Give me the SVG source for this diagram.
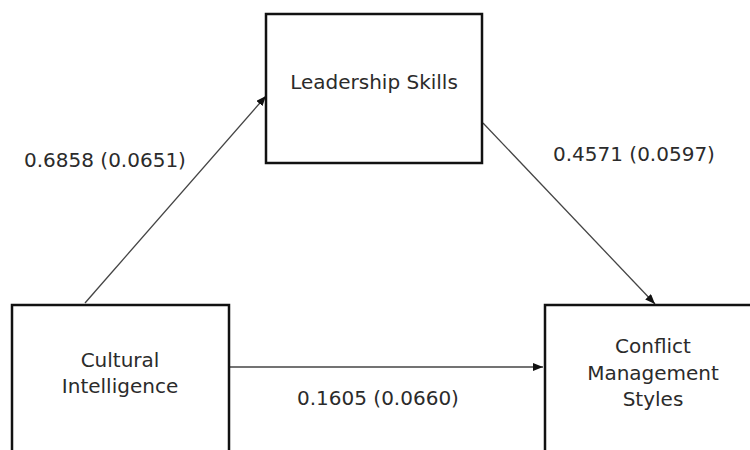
<svg xmlns="http://www.w3.org/2000/svg" width="750" height="450" viewBox="0 0 750 450">
<style>
.box{fill:#fff;stroke:#111;stroke-width:2.5}
.t{font-family:"DejaVu Sans",Verdana,sans-serif;font-size:20px;fill:#2b2b2b;text-anchor:middle}
.lbl{font-family:"DejaVu Sans",Verdana,sans-serif;font-size:20px;fill:#2b2b2b}
.c{stroke:#444;stroke-width:1.3;fill:none;marker-end:url(#ah)}
</style>
<defs>
<marker id="ah" markerWidth="10" markerHeight="8" refX="10" refY="4" orient="auto" markerUnits="userSpaceOnUse">
<path d="M0,0 L10,4 L0,8 Z" fill="#111"/>
</marker>
</defs>
<rect width="750" height="450" fill="#fff"/>
<g id="connectors">
<line class="c" x1="85" y1="303" x2="266" y2="96"/>
<line class="c" x1="483" y1="123" x2="655" y2="304"/>
<line class="c" x1="230" y1="367" x2="543" y2="367"/>
</g>
<g id="leadership">
<rect class="box" x="266" y="14" width="216" height="149"/>
<text class="t" x="374" y="89">Leadership Skills</text>
</g>
<g id="cultural">
<rect class="box" x="12" y="305" width="217" height="160"/>
<text class="t" x="120" y="367">Cultural</text>
<text class="t" x="120" y="393">Intelligence</text>
</g>
<g id="conflict">
<rect class="box" x="545" y="305" width="240" height="160"/>
<text class="t" x="653" y="353">Conflict</text>
<text class="t" x="653" y="380">Management</text>
<text class="t" x="653" y="406">Styles</text>
</g>
<g id="labels">
<text class="lbl" x="24" y="167">0.6858 (0.0651)</text>
<text class="lbl" x="553" y="161">0.4571 (0.0597)</text>
<text class="lbl" x="297" y="405">0.1605 (0.0660)</text>
</g>
</svg>
